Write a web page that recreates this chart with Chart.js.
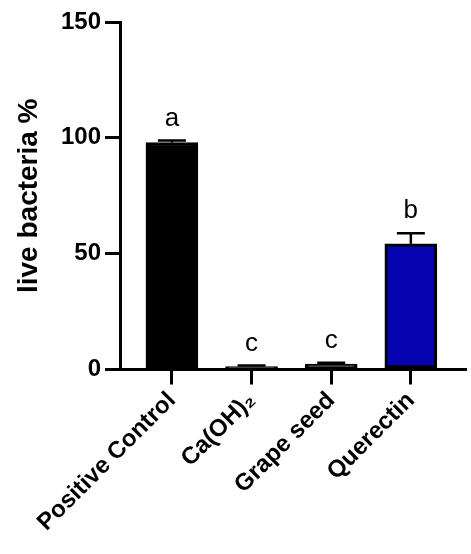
<!DOCTYPE html>
<html>
<head>
<meta charset="utf-8">
<script src="https://cdn.jsdelivr.net/npm/chart.js@4"></script>
<style>
  html, body { margin: 0; padding: 0; background: #fff; }
  #wrap { width: 471px; height: 554px; }
</style>
</head>
<body>
<div id="wrap"><canvas id="chart" width="471" height="554"></canvas></div>
<script>
var categories = ['Positive Control', 'Ca(OH)\u2082', 'Grape seed', 'Querectin'];
var means = [98, 1.3, 2.3, 54.3];
var sds = [0.8, 0.4, 0.6, 4.5];
var letters = ['a', 'c', 'c', 'b'];
var barColors = ['#000000', '#000000', '#000000', '#0505b0'];
var yTicks = [0, 50, 100, 150];

var errorBars = {
    id: 'errorBars',
    afterDatasetsDraw: function(chart) {
        var ctx = chart.ctx;
        var x = chart.scales.x, y = chart.scales.y;
        ctx.save();
        ctx.strokeStyle = '#000';
        ctx.lineWidth = 2.5;
        ctx.fillStyle = '#000';
        ctx.font = '26px "Liberation Sans", Arial, sans-serif';
        ctx.textAlign = 'center';
        ctx.textBaseline = 'alphabetic';
        for (var i = 0; i < means.length; i++) {
            var px = x.getPixelForValue(i);
            var top = y.getPixelForValue(means[i] + sds[i]);
            var base = y.getPixelForValue(means[i]);
            ctx.beginPath();
            ctx.moveTo(px, base);
            ctx.lineTo(px, top);
            ctx.moveTo(px - 14, top);
            ctx.lineTo(px + 14, top);
            ctx.stroke();
            ctx.fillText(letters[i], px, top - 15);
        }
        ctx.restore();
    }
};

var el = document.getElementById('chart');
var ctx = el.getContext('2d');

new Chart(ctx, {
    type: 'bar',
    data: {
        datasets: [{
            data: means.map(function(v, i) { return {x: i, y: v}; }),
            backgroundColor: barColors,
            borderColor: '#000',
            borderWidth: 3,
            borderSkipped: false,
            barThickness: 52
        }]
    },
    options: {
        responsive: false,
        animation: false,
        layout: { padding: { top: 22, right: 6, bottom: 15, left: 0 } },
        plugins: { legend: { display: false }, tooltip: { enabled: false } },
        scales: {
            x: {
                type: 'linear',
                offset: false,
                min: -0.652,
                max: 3.68,
                afterBuildTicks: function(axis) {
                    axis.ticks = categories.map(function(c, i) { return {value: i}; });
                },
                border: { color: '#000', width: 3 },
                grid: { offset: false, drawOnChartArea: false, color: '#000', lineWidth: 3, tickLength: 15 },
                ticks: {
                    minRotation: 45,
                    maxRotation: 45,
                    padding: 2,
                    color: '#000',
                    font: { family: '"Liberation Sans", Arial, sans-serif', size: 24, weight: 'bold' },
                    callback: function(value) { return categories[value]; }
                }
            },
            y: {
                min: 0,
                max: 150,
                afterBuildTicks: function(axis) {
                    axis.ticks = yTicks.map(function(v) { return {value: v}; });
                },
                afterFit: function(axis) { axis.width = 120; },
                border: { color: '#000', width: 3 },
                grid: { drawOnChartArea: false, color: '#000', lineWidth: 3, tickLength: 15 },
                ticks: {
                    padding: 4,
                    color: '#000',
                    font: { family: '"Liberation Sans", Arial, sans-serif', size: 24, weight: 'bold' }
                },
                title: {
                    display: true,
                    text: 'live bacteria %',
                    color: '#000',
                    padding: { top: 12, bottom: 0 },
                    font: { family: '"Liberation Sans", Arial, sans-serif', size: 28, weight: 'bold' }
                }
            }
        }
    },
    plugins: [errorBars]
});
</script>
</body>
</html>
